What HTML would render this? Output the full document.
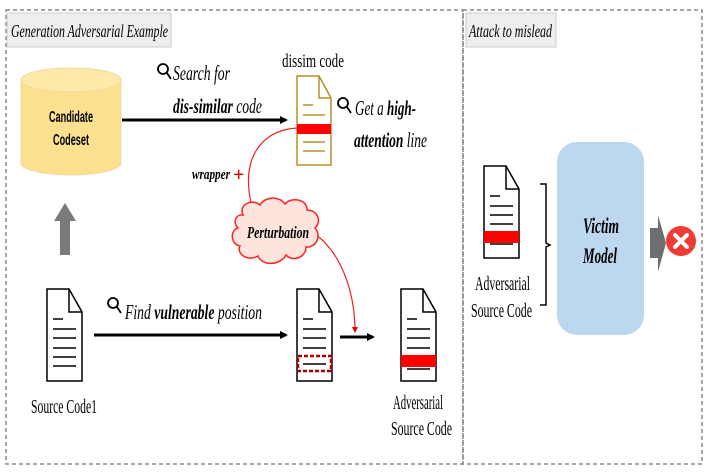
<!DOCTYPE html>
<html><head><style>
body{margin:0;background:#fff;}
svg{display:block;font-family:"Liberation Serif",serif;}
</style></head><body>
<svg width="708" height="474" viewBox="0 0 708 474">
<defs>
<marker id="ab" markerWidth="8" markerHeight="8" refX="6" refY="4" orient="auto" markerUnits="userSpaceOnUse"><path d="M0,0L8,4L0,8z" fill="#000"/></marker>
<marker id="ar" markerWidth="6" markerHeight="6" refX="5" refY="3" orient="auto" markerUnits="userSpaceOnUse"><path d="M0,0L6,3L0,6z" fill="#e00"/></marker>
</defs>
<rect x="6" y="10" width="457" height="454" fill="none" stroke="#888" stroke-width="1.5" stroke-dasharray="4,3"/>
<rect x="463" y="10" width="239" height="454" fill="none" stroke="#888" stroke-width="1.5" stroke-dasharray="4,3"/>
<rect x="7" y="13" width="164" height="34" fill="#eee" stroke="#ccc"/>
<text x="11" y="37" font-size="18" font-style="italic" textLength="157" lengthAdjust="spacingAndGlyphs">Generation Adversarial Example</text>
<rect x="466" y="13" width="90" height="34" fill="#eee" stroke="#ccc"/>
<text x="469" y="37" font-size="18" font-style="italic" textLength="83" lengthAdjust="spacingAndGlyphs">Attack to mislead</text>

<path d="M21,80 L21,163 A50,12 0 0 0 121,163 L121,80" fill="#fbe18f" stroke="#f3d9a0"/>
<ellipse cx="71" cy="80" rx="50" ry="12" fill="#fde9a9" stroke="#f3d9a0"/>
<text x="49" y="122" font-size="16" font-weight="bold" font-family="Liberation Sans,sans-serif" textLength="44" lengthAdjust="spacingAndGlyphs">Candidate</text>
<text x="53" y="145" font-size="16" font-weight="bold" font-family="Liberation Sans,sans-serif" textLength="36" lengthAdjust="spacingAndGlyphs">Codeset</text>
<line x1="122" y1="120" x2="286" y2="120" stroke="#000" stroke-width="3" marker-end="url(#ab)"/>

<g font-size="21" font-style="italic">
<text x="173" y="80" textLength="57" lengthAdjust="spacingAndGlyphs">Search for</text>
<text x="173" y="113" textLength="89" lengthAdjust="spacingAndGlyphs"><tspan font-weight="bold">dis-similar</tspan> code</text>
<text x="282" y="67" font-style="normal" font-size="19" textLength="62" lengthAdjust="spacingAndGlyphs">dissim code</text>
<text x="355" y="115" textLength="61" lengthAdjust="spacingAndGlyphs">Get a <tspan font-weight="bold">high-</tspan></text>
<text x="354" y="147" textLength="73" lengthAdjust="spacingAndGlyphs"><tspan font-weight="bold">attention</tspan> line</text>
<text x="192" y="179" font-size="15" font-weight="bold" textLength="38" lengthAdjust="spacingAndGlyphs">wrapper</text>
<text x="125" y="319" textLength="137" lengthAdjust="spacingAndGlyphs">Find <tspan font-weight="bold">vulnerable</tspan> position</text>
</g>
<text x="233" y="181" font-size="20" fill="#d00" font-weight="bold">+</text>
<g stroke="#000" stroke-width="1.8" fill="none">
<circle cx="163" cy="69" r="5"/><line x1="167" y1="73" x2="171" y2="79"/>
<circle cx="343" cy="103" r="5"/><line x1="347" y1="107" x2="351" y2="113"/>
<circle cx="113" cy="303" r="5"/><line x1="117" y1="307" x2="121" y2="313"/>
</g>

<g stroke="#b8902a" stroke-width="1.5" fill="#fff">
<path d="M297,76 L319,76 L331,98 L331,165 L297,165 Z"/>
<path d="M319,76 L319,98 L331,98" fill="none"/>
</g>
<g stroke="#b8902a" stroke-width="1.5"><line x1="303" y1="105" x2="313" y2="105"/><line x1="303" y1="115" x2="325" y2="115"/><line x1="303" y1="142" x2="325" y2="142"/><line x1="303" y1="151" x2="325" y2="151"/></g>
<rect x="297" y="124" width="34" height="10" fill="#f00"/>

<path d="M297,128 C260,130 240,160 252,207" fill="none" stroke="#e22" stroke-width="1.2"/>
<path d="M312,232 C340,250 355,290 355,332" fill="none" stroke="#e22" stroke-width="1.2" marker-end="url(#ar)"/>
<path d="M243,215 C238,205 252,198 260,205 C265,196 280,196 285,204 C292,196 308,200 307,210 C318,210 322,222 315,228 C322,236 316,248 306,247 C306,258 292,262 286,255 C280,266 262,266 258,256 C248,262 236,254 240,246 C230,244 230,230 238,228 C232,222 236,214 243,215 Z" fill="#fde4dc" stroke="#f22" stroke-width="1.5"/>
<text x="247" y="238" font-size="17" font-weight="bold" font-style="italic" textLength="62" lengthAdjust="spacingAndGlyphs">Perturbation</text>

<path d="M54,221 L65,203 L76,221 L70,221 L70,255 L60,255 L60,221 Z" fill="#7a7a7a"/>

<g stroke="#000" stroke-width="1.5" fill="#fff">
<path d="M47,289 L69,289 L82,312 L82,381 L47,381 Z"/><path d="M69,289 L69,312 L82,312" fill="none"/>
</g>
<g stroke="#000" stroke-width="1.5"><line x1="53" y1="319" x2="63" y2="319"/><line x1="53" y1="329" x2="76" y2="329"/><line x1="53" y1="338" x2="76" y2="338"/><line x1="53" y1="348" x2="76" y2="348"/><line x1="53" y1="357" x2="76" y2="357"/><line x1="53" y1="366" x2="76" y2="366"/></g>
<text x="31" y="413" font-size="20" textLength="66" lengthAdjust="spacingAndGlyphs">Source Code1</text>
<line x1="94" y1="335" x2="286" y2="335" stroke="#000" stroke-width="3" marker-end="url(#ab)"/>

<g stroke="#000" stroke-width="1.5" fill="#fff">
<path d="M297,289 L319,289 L332,312 L332,381 L297,381 Z"/><path d="M319,289 L319,312 L332,312" fill="none"/>
</g>
<g stroke="#000" stroke-width="1.5"><line x1="303" y1="319" x2="313" y2="319"/><line x1="303" y1="329" x2="326" y2="329"/><line x1="303" y1="338" x2="326" y2="338"/><line x1="303" y1="348" x2="326" y2="348"/><line x1="303" y1="364" x2="326" y2="364"/></g>
<rect x="298" y="356" width="33" height="15" fill="none" stroke="#a00" stroke-width="2.5" stroke-dasharray="4,2"/>
<line x1="340" y1="337" x2="373" y2="337" stroke="#000" stroke-width="3" marker-end="url(#ab)"/>

<g stroke="#000" stroke-width="1.5" fill="#fff">
<path d="M401,289 L423,289 L436,312 L436,381 L401,381 Z"/><path d="M423,289 L423,312 L436,312" fill="none"/>
</g>
<g stroke="#000" stroke-width="1.5"><line x1="407" y1="319" x2="417" y2="319"/><line x1="407" y1="329" x2="430" y2="329"/><line x1="407" y1="338" x2="430" y2="338"/><line x1="407" y1="348" x2="430" y2="348"/><line x1="407" y1="369" x2="430" y2="369"/></g>
<rect x="401" y="355" width="35" height="12" fill="#f00"/>
<text x="393" y="409" font-size="20" textLength="50" lengthAdjust="spacingAndGlyphs">Adversarial</text>
<text x="391" y="435" font-size="20" textLength="61" lengthAdjust="spacingAndGlyphs">Source Code</text>

<g stroke="#000" stroke-width="1.5" fill="#fff">
<path d="M484,166 L506,166 L519,189 L519,258 L484,258 Z"/><path d="M506,166 L506,189 L519,189" fill="none"/>
</g>
<g stroke="#000" stroke-width="1.5"><line x1="490" y1="196" x2="500" y2="196"/><line x1="490" y1="206" x2="513" y2="206"/><line x1="490" y1="215" x2="513" y2="215"/><line x1="490" y1="224" x2="513" y2="224"/><line x1="490" y1="244" x2="513" y2="244"/></g>
<rect x="484" y="231" width="35" height="12" fill="#f00"/>
<text x="475" y="290" font-size="20" textLength="55" lengthAdjust="spacingAndGlyphs">Adversarial</text>
<text x="471" y="317" font-size="20" textLength="61" lengthAdjust="spacingAndGlyphs">Source Code</text>
<path d="M540,184 L546,184 L546,243 L550,245 L546,247 L546,305 L540,305" fill="none" stroke="#000" stroke-width="1.5"/>
<rect x="557" y="142" width="87" height="193" rx="20" fill="#bdd7ee"/>
<text x="583" y="233" font-size="22" font-weight="bold" font-style="italic" textLength="36" lengthAdjust="spacingAndGlyphs">Victim</text>
<text x="583" y="263" font-size="22" font-weight="bold" font-style="italic" textLength="34" lengthAdjust="spacingAndGlyphs">Model</text>
<path d="M650,228 L658,228 L658,215 L666,243 L658,272 L658,258 L650,258 Z" fill="#6e6e6e"/>
<circle cx="681" cy="241" r="15" fill="#ef3b33"/>
<g stroke="#fff" stroke-width="4" stroke-linecap="round"><line x1="675" y1="235" x2="687" y2="247"/><line x1="687" y1="235" x2="675" y2="247"/></g>
</svg>
</body></html>
